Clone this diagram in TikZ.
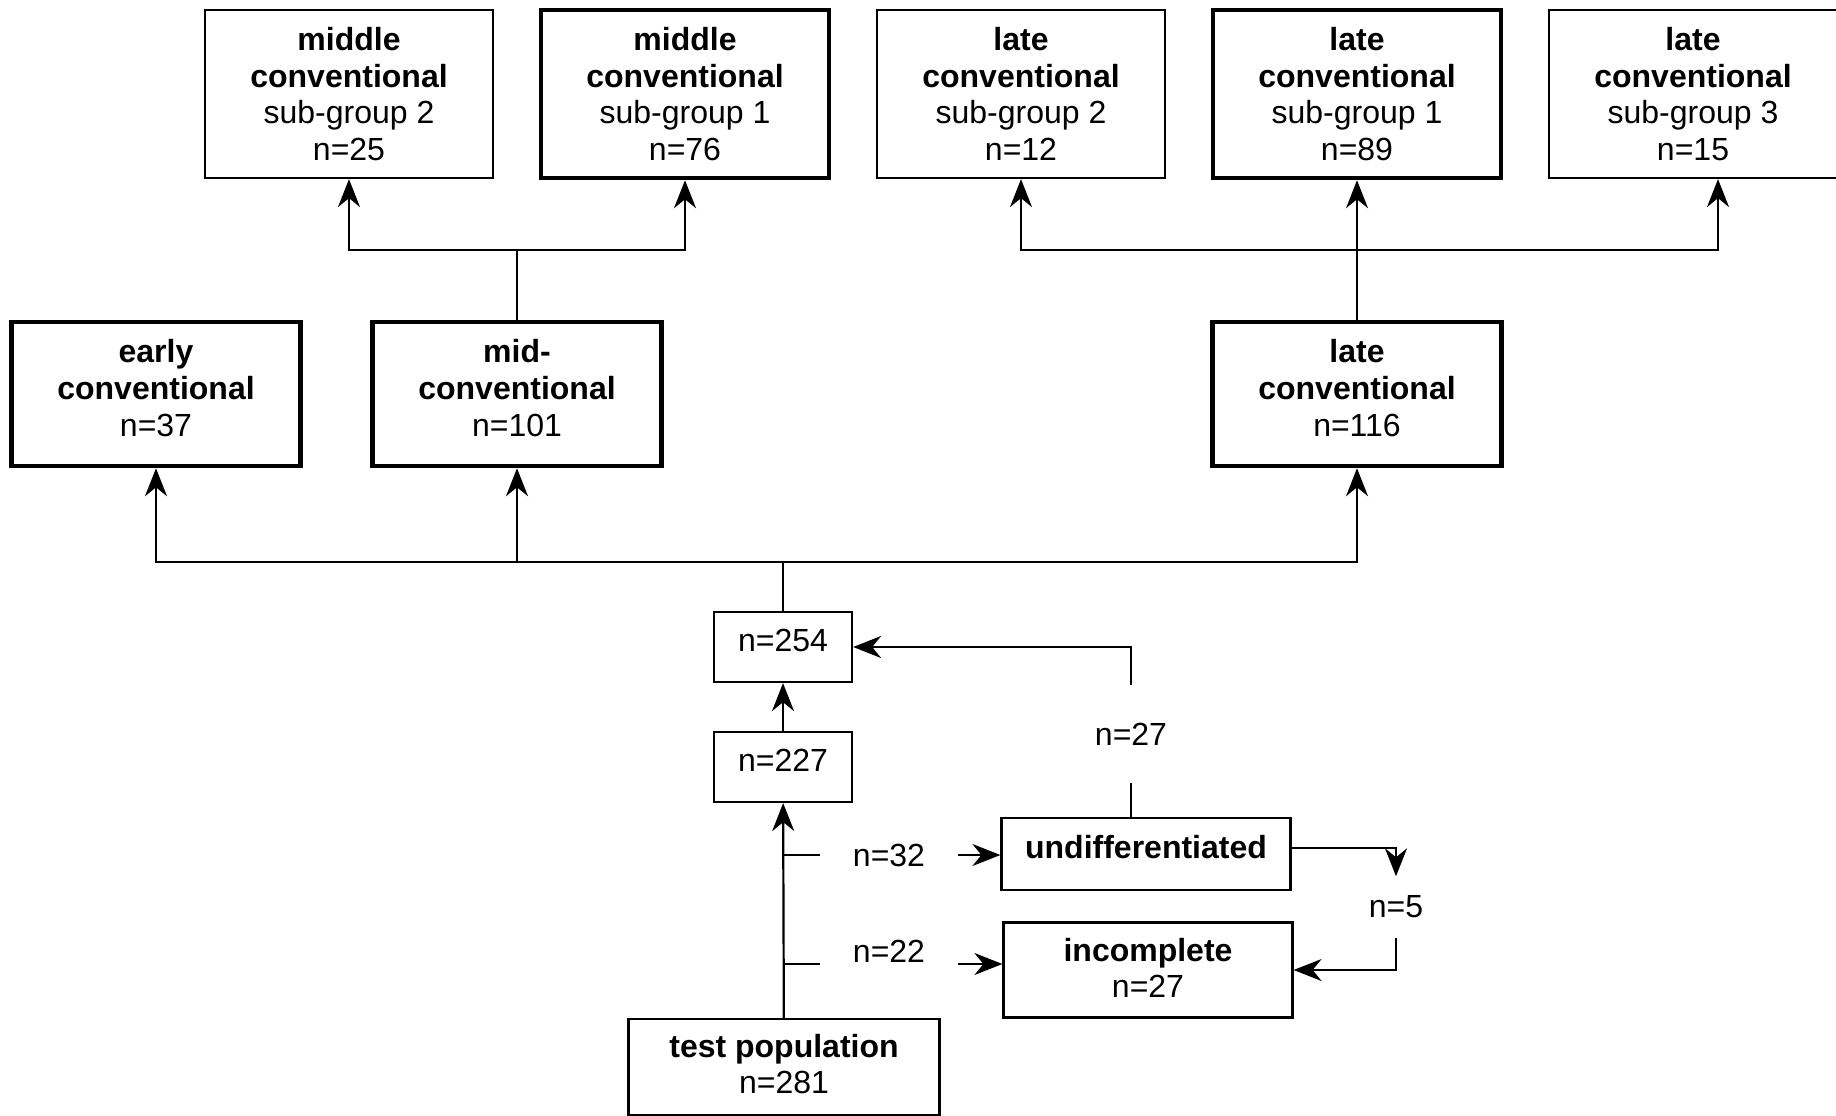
\documentclass[tikz,border=0pt]{standalone}
\usepackage{fontspec}
\setmainfont{Liberation Sans}
\usetikzlibrary{arrows.meta, calc}

\begin{document}
\begin{tikzpicture}[x=1pt, y=-1pt,
            font=\fontsize{32}{36.7}\selectfont,
            sub/.style={rectangle, draw, line width=2.2pt, minimum width=288pt, minimum height=168pt, align=center, inner sep=0pt},
            main/.style={sub, line width=4.5pt},
            stage/.style={rectangle, draw, line width=4.5pt, minimum width=289pt, minimum height=144pt, align=center, inner sep=0pt, text depth=12pt},
            count/.style={rectangle, draw, line width=2.2pt, minimum width=138pt, minimum height=70pt, align=center, inner sep=0pt, text depth=14pt},
            side/.style={rectangle, draw, line width=2.2pt, minimum width=289pt, align=center, inner sep=0pt},
            lbl/.style={inner sep=0pt, minimum width=138pt},
            link/.style={line width=2.2pt},
            arrow/.style={link, -{Stealth[length=28pt, width=22pt, inset=9pt]}}
        ]
            \useasboundingbox (0,0) rectangle (1836,1116);

% Sub-groups
            \node[sub] (ms2) at (349,94) {\textbf{middle}\\\textbf{conventional}\\sub-group 2\\n=25};
            \node[main] (ms1) at (685,94) {\textbf{middle}\\\textbf{conventional}\\sub-group 1\\n=76};
            \node[sub] (ls2) at (1021,94) {\textbf{late}\\\textbf{conventional}\\sub-group 2\\n=12};
            \node[main] (ls1) at (1357,94) {\textbf{late}\\\textbf{conventional}\\sub-group 1\\n=89};
            \node[sub] (ls3) at (1693,94) {\textbf{late}\\\textbf{conventional}\\sub-group 3\\n=15};

% Stages
            \node[stage] (early) at (156,394) {\textbf{early}\\\textbf{conventional}\\n=37};
            \node[stage] (mid) at (517,394) {\textbf{mid-}\\\textbf{conventional}\\n=101};
            \node[stage] (late) at (1357,394) {\textbf{late}\\\textbf{conventional}\\n=116};

% Counts
            \node[count] (n254) at (783,647) {n=254};
            \node[count] (n227) at (783,767) {n=227};
            \node[side, minimum width=311pt, minimum height=96pt, text depth=6pt] (test) at (784,1067) {\textbf{test population}\\n=281};
            \node[side, minimum height=72pt, text depth=14pt] (undiff) at (1146,854) {\textbf{undifferentiated}};
            \node[side, minimum height=95pt, text depth=4pt] (incomplete) at (1148,970) {\textbf{incomplete}\\n=27};

% Edge labels
            \node[lbl] (l32) at (889,855) {n=32};
            \node[lbl, minimum height=60pt] (l22) at (889,951) {n=22};
            \node[inner sep=0pt, minimum height=98pt] (l27) at (1131,734) {n=27};
            \node[inner sep=0pt, minimum height=61pt] (l5) at (1396,907) {n=5};
            \coordinate (j32) at (783,855);
            \coordinate (j22) at (783,964);
            \coordinate (fb) at (783,562);
            \coordinate (fm) at (517,250);
            \coordinate (fl) at (1357,250);

% Trunk
            \draw[arrow] (test) -- (n227);
            \draw[arrow] (n227) -- (n254);
            \draw[link] (j32) -- (j32 -| l32.west);
            \draw[arrow] (j32 -| l32.east) -- (j32 -| undiff.west);
            \draw[link] (j22) -- (j22 -| l22.west);
            \draw[arrow] (j22 -| l22.east) -- (j22 -| incomplete.west);

% Side loops
            \draw[link] (l27 |- undiff.north) -- (l27.south);
            \draw[arrow] (l27.north) |- (n254.east);
            \draw[arrow] ($(undiff.east)+(0,-6)$) -| (l5.north);
            \draw[arrow] (l5.south) |- (incomplete.east);

% Split into stages
            \draw[link] (n254) -- (fb);
            \draw[arrow] (fb) -| (early);
            \draw[arrow] (fb) -| (mid);
            \draw[arrow] (fb) -| (late);

% Split into sub-groups
            \draw[link] (mid) -- (fm);
            \draw[arrow] (fm) -| (ms2);
            \draw[arrow] (fm) -| (ms1);
            \draw[arrow] (late) -- (ls1);
            \draw[arrow] (fl) -| (ls2);
            \draw[arrow] (fl) -| ($(ls3.south)+(25,0)$);

        \end{tikzpicture}
\end{document}
